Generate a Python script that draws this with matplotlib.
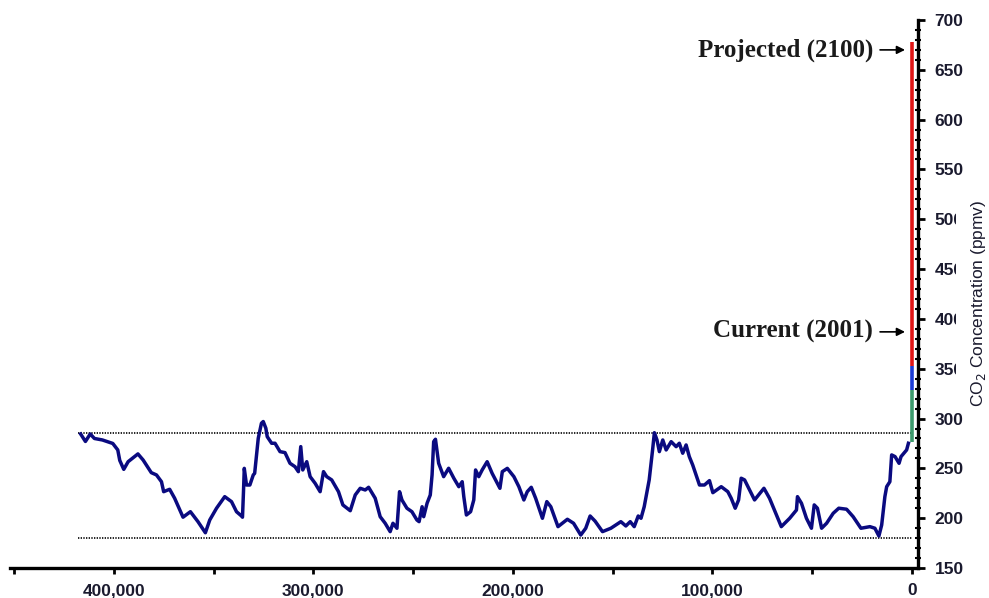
import matplotlib
matplotlib.use("Agg")
import matplotlib.pyplot as plt
from matplotlib.patches import Rectangle
from matplotlib.ticker import FuncFormatter, MultipleLocator

# Vostok ice core CO2 record: age in thousands of years before present, CO2 in ppmv
age_kyr = [
    416.6, 414.2, 411.8, 409.7, 405.7, 400.5, 398.0, 397.0, 395.0, 392.8,
    387.9, 385.3, 381.2, 378.6, 376.1, 375.0, 372.0, 369.5, 365.3, 361.6,
    357.8, 354.1, 351.9, 348.5, 344.4, 341.0, 338.5, 336.0, 335.5, 335.0,
    334.6, 333.5, 331.8, 330.1, 329.4, 327.6, 326.0, 325.1, 323.8, 323.1,
    320.9, 319.2, 316.7, 314.2, 311.7, 309.2, 307.5, 306.3, 305.3, 303.3,
    301.6, 299.1, 296.6, 294.9, 293.3, 290.8, 287.4, 285.2, 281.5, 279.0,
    276.5, 274.0, 272.3, 269.0, 266.5, 264.0, 261.5, 260.1, 258.1, 256.8,
    255.6, 253.1, 250.6, 248.1, 247.0, 245.5, 244.7, 243.0, 241.4, 240.5,
    239.7, 238.8, 237.2, 234.7, 232.2, 229.6, 227.1, 225.4, 224.6, 223.3,
    221.2, 219.6, 218.7, 217.1, 215.4, 212.9, 210.4, 207.8, 206.5, 205.3,
    202.8, 199.5, 197.0, 194.5, 192.8, 190.8, 188.6, 185.2, 183.0, 181.0,
    177.4, 172.7, 169.6, 166.0, 163.5, 161.3, 158.8, 155.1, 150.9, 145.9,
    143.4, 141.2, 139.2, 137.2, 135.8, 134.2, 131.7, 130.0, 129.1, 127.8,
    126.6, 124.9, 123.2, 120.7, 118.2, 116.6, 114.9, 113.2, 111.6, 109.9,
    108.2, 106.5, 104.0, 101.5, 99.8, 95.6, 92.3, 90.6, 88.6, 86.9,
    85.6, 83.9, 81.4, 78.9, 74.2, 71.4, 65.5, 61.3, 57.9, 57.4,
    55.4, 52.9, 50.4, 49.0, 47.4, 45.3, 42.8, 39.5, 36.7, 32.8,
    29.5, 25.6, 21.1, 18.6, 16.6, 15.2, 13.6, 12.7, 11.1, 10.2,
    8.5, 6.5, 5.5, 2.7, 1.8,
]
co2_ppmv = [
    284.5, 277.0, 284.5, 280.0, 278.5, 275.0, 268.5, 258.0, 249.0, 256.7,
    264.5, 258.4, 245.7, 243.4, 236.6, 226.6, 229.0, 220.0, 201.0, 206.5,
    196.5, 185.4, 198.2, 210.0, 221.6, 216.6, 206.5, 202.2, 201.0, 226.6,
    250.0, 233.3, 233.3, 243.4, 245.0, 280.2, 295.3, 297.0, 290.3, 281.8,
    275.2, 275.2, 266.8, 265.8, 255.1, 251.7, 246.7, 271.8, 248.4, 256.7,
    241.7, 235.0, 226.6, 246.7, 241.7, 238.4, 226.6, 213.3, 207.5, 223.3,
    230.0, 228.3, 231.0, 220.0, 201.5, 194.9, 186.5, 194.9, 189.9, 226.6,
    218.3, 210.0, 206.5, 198.2, 196.5, 211.5, 201.5, 215.0, 223.3, 243.4,
    276.8, 279.2, 255.1, 241.7, 250.1, 240.1, 231.6, 236.6, 221.6, 203.2,
    206.5, 218.3, 248.4, 241.7, 248.4, 256.7, 245.0, 235.0, 230.0, 246.7,
    250.0, 241.7, 231.6, 218.3, 226.6, 231.0, 220.0, 199.9, 216.6, 211.5,
    191.5, 198.9, 194.9, 183.1, 189.9, 202.2, 197.0, 186.5, 189.9, 196.5,
    192.2, 196.5, 191.5, 202.2, 199.9, 211.5, 238.4, 268.5, 285.8, 278.5,
    266.8, 278.5, 268.5, 276.8, 271.8, 275.2, 265.2, 273.5, 261.8, 253.4,
    243.4, 233.3, 233.3, 237.7, 225.6, 231.6, 226.6, 220.0, 210.0, 218.3,
    240.1, 238.4, 228.3, 218.3, 230.0, 220.0, 191.5, 199.9, 208.2, 221.6,
    215.0, 199.9, 189.9, 213.3, 210.0, 189.9, 194.9, 204.9, 210.0, 209.0,
    201.5, 189.9, 191.5, 189.9, 182.1, 193.2, 221.6, 231.6, 236.6, 263.5,
    261.8, 255.1, 261.8, 268.5, 275.2,
]

# recent rise and projection, drawn as stacked bars at year 0
bar_ranges = [(276, 329), (329, 353), (353, 678)]
bar_colors = ["#3c9a6c", "#1a3ad6", "#e01515"]

# glacial/interglacial bounds of the ice-core record
upper_bound = 285
lower_bound = 180

callouts = [("Projected (2100)", 670), ("Current (2001)", 387)]

ages = [a * 1000 for a in age_kyr]

fig = plt.figure(figsize=(9.89, 5.98), dpi=100)
ax = fig.add_axes([10 / 989, 30 / 598, 908 / 989, 548 / 598])

ax.hlines([upper_bound, lower_bound], 418000, 0, colors="black",
          linestyles=(0, (0.8, 0.8)), linewidth=1.2, zorder=1)
ax.plot(ages, co2_ppmv, color="#0a0a80", linewidth=2.5, zorder=3,
        solid_joinstyle="round")
for (lo, hi), c in zip(bar_ranges, bar_colors):
    ax.vlines(0, lo, hi, colors=c, linewidth=2.6, zorder=4)

for text, level in callouts:
    ax.annotate(text, xy=(3500, level), xytext=(19500, level),
                ha="right", va="center", fontsize=18, fontweight="bold",
                family="Liberation Serif", color="#1a1a1a",
                arrowprops=dict(arrowstyle="-|>", color="black", lw=1.2,
                                mutation_scale=12, shrinkA=3, shrinkB=0))

ax.set_xlim(452000, -3000)
ax.set_ylim(150, 700)

for side in ["top", "left"]:
    ax.spines[side].set_visible(False)
ax.spines["bottom"].set_linewidth(2.4)
ax.spines["right"].set_linewidth(2.4)

ax.xaxis.set_major_locator(MultipleLocator(50000))
ax.xaxis.set_major_formatter(FuncFormatter(
    lambda v, p: f"{int(round(v)):,}" if round(v) % 100000 == 0 else ""))
ax.tick_params(axis="x", direction="out", length=4, width=2, pad=7,
               labelsize=12.5, labelcolor="#1a1a2e")

ax.yaxis.tick_right()
ax.yaxis.set_major_locator(MultipleLocator(50))
ax.yaxis.set_minor_locator(MultipleLocator(10))
ax.tick_params(axis="y", which="major", direction="out", length=5, width=2,
               pad=7, labelsize=12.5, labelcolor="#1a1a2e")
ax.tick_params(axis="y", which="minor", direction="inout", length=4, width=1.5)

for lbl in ax.get_xticklabels() + ax.get_yticklabels():
    lbl.set_fontweight("bold")
    lbl.set_family("Liberation Sans")

# axis title sits over the right edge of the tick labels
fig.add_artist(Rectangle((956 / 989, 1 - 408 / 598), 33 / 989, 220 / 598,
                         transform=fig.transFigure, facecolor="white",
                         edgecolor="none", zorder=5))
fig.text(979 / 989, 1 - 303 / 598, "CO$_2$ Concentration (ppmv)",
         rotation=90, ha="center", va="center", fontsize=12.5,
         family="Liberation Sans", color="#1a1a2e", zorder=6)

fig.savefig("out.png", dpi=100)
